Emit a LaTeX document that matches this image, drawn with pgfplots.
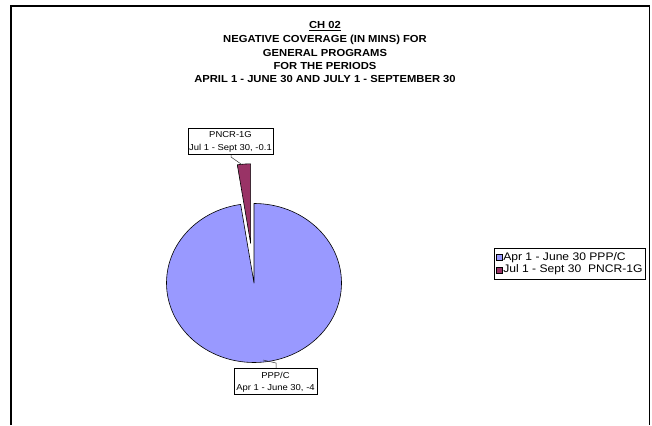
\documentclass[border=0pt]{standalone}
\usepackage{pgfplots}
\pgfplotsset{compat=1.18}
\usepackage{pgfplotstable}
\usepackage{fontspec}
\setmainfont{Liberation Sans}
\definecolor{pieA}{HTML}{9999FF}
\definecolor{pieB}{HTML}{993366}
\definecolor{leader}{HTML}{333333}

\pgfplotstableread{
label value
PPP/C -4
PNCR-1G -0.1
}\piedata

\begin{document}
\begin{tikzpicture}
\pgfplotstablegetelem{0}{value}\of\piedata \let\va\pgfplotsretval
\pgfplotstablegetelem{1}{value}\of\piedata \let\vb\pgfplotsretval
\pgfmathsetmacro{\tot}{abs(\va)+abs(\vb)}
\pgfmathsetmacro{\endA}{90-360*abs(\va)/\tot}
\pgfmathsetmacro{\startB}{90+360*abs(\vb)/\tot}
\pgfmathsetmacro{\midB}{(\startB+90)/2}
\begin{axis}[
  x=1pt, y=1pt, xmin=0, xmax=652, ymin=0, ymax=425,
  hide axis, clip=false,
  legend style={at={(axis cs:494,177)}, anchor=north west, draw=black,
    line width=0.6pt, inner xsep=1.5pt, inner ysep=3pt,
    font=\fontsize{11}{12}\selectfont,
    nodes={inner sep=1pt, text height=8pt, text depth=2.5pt, xscale=1.1}, row sep=0pt},
  legend cell align=left,
  legend image code/.code={\draw[#1,line width=0.4pt,draw=black] (0pt,-3pt) rectangle (6pt,3pt);},
]
\addlegendimage{fill=pieA}
\addlegendentry{Apr 1 - June 30 PPP/C}
\addlegendimage{fill=pieB}
\addlegendentry{Jul 1 - Sept 30\ \ PNCR-1G}

% outer frame
\draw[line width=1.2pt, black] (axis cs:11,0) -- (axis cs:11,419) -- (axis cs:649.5,419) -- (axis cs:649.5,0);

% title
\begin{scope}[every node/.style={anchor=base, xscale=1.1, inner sep=0, font=\fontsize{10.2}{12}\selectfont\bfseries}]
\node at (axis cs:325,396.3) {\underline{CH 02}};
\node at (axis cs:325,382) {NEGATIVE COVERAGE (IN MINS) FOR};
\node at (axis cs:325,368.7) {GENERAL PROGRAMS};
\node at (axis cs:325,355.3) {FOR THE PERIODS};
\node at (axis cs:325,342) {APRIL 1 - JUNE 30 AND JULY 1 - SEPTEMBER 30};
\end{scope}

% pie slices
\filldraw[fill=pieA, draw=black, line width=0.6pt, line join=round]
  (axis cs:254,142) -- ++(90:87.5pt and 79.5pt)
  arc[start angle=90, end angle=\endA, x radius=87.5pt, y radius=79.5pt] -- cycle;
\filldraw[fill=pieB, draw=black, line width=0.6pt, line join=round]
  ([shift={(\midB:43.75pt and 39.75pt)}]axis cs:254,142) -- ++(\startB:87.5pt and 79.5pt)
  arc[start angle=\startB, end angle=90, x radius=87.5pt, y radius=79.5pt] -- cycle;

% leader lines
\draw[leader, line width=0.5pt] (axis cs:231,271) -- (axis cs:231,268) -- (axis cs:241,261);
\draw[leader, line width=0.5pt] (axis cs:263,65) -- (axis cs:276,62) -- (axis cs:276,57);

% data labels
\draw[black, line width=0.6pt, fill=white] (axis cs:188,271) rectangle (axis cs:273,297);
\draw[black, line width=0.6pt, fill=white] (axis cs:234,31) rectangle (axis cs:317,57);
\begin{scope}[every node/.style={anchor=base, xscale=1.1, inner sep=0, font=\fontsize{8.6}{10}\selectfont}]
\node at (axis cs:230.5,287.9) {PNCR-1G};
\node at (axis cs:230.5,274.2) {Jul 1 - Sept 30, -0.1};
\node at (axis cs:275.5,46.9) {PPP/C};
\node at (axis cs:275.5,34.9) {Apr 1 - June 30, -4};
\end{scope}
\end{axis}
\pgfresetboundingbox
\useasboundingbox (0,0) rectangle (652pt,425pt);
\end{tikzpicture}
\end{document}
